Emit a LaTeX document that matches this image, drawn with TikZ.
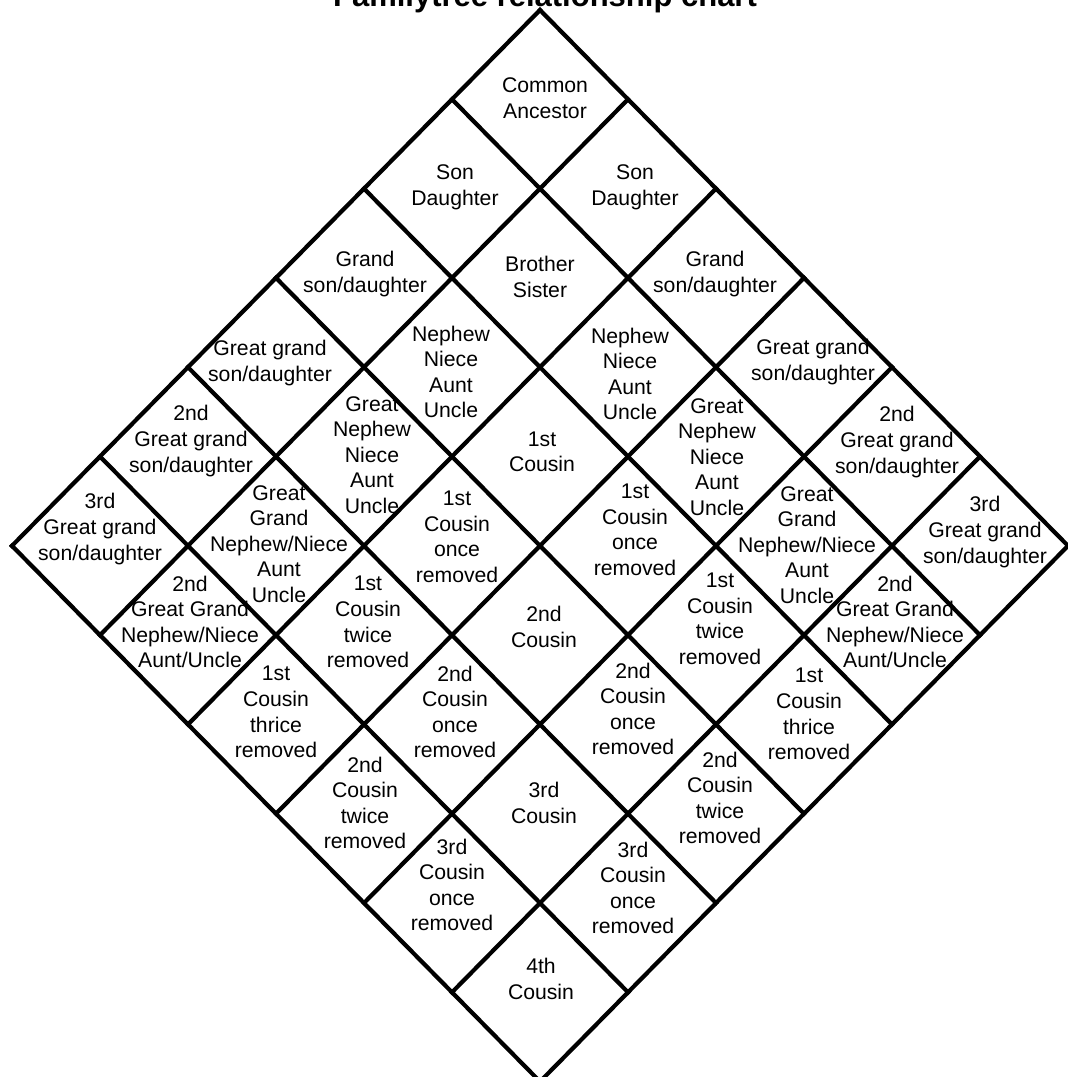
\documentclass[tikz,border=0pt]{standalone}
\usepackage{fontspec}
\setmainfont{Liberation Sans}

\begin{document}
\begin{tikzpicture}[x=0.5pt,y=-0.5pt,
  lbl/.style={align=center,inner sep=0pt,font=\fontsize{10.6}{12.8}\selectfont},
  gridline/.style={line width=2.1pt,line cap=rect}]
  \useasboundingbox (0,0) rectangle (1068,1077);
  \node[anchor=base,font=\fontsize{15.5}{18}\selectfont\bfseries] (title) at (545,6) {Familytree relationship chart};
  % diamond grid, 6 x 6 cells
  \begin{scope}[shift={(540,10)},x={(44pt,-44.65pt)},y={(-44pt,-44.65pt)}]
    \foreach \k in {0,...,6} {
      \draw[gridline] (0,\k) -- (6,\k);
      \draw[gridline] (\k,0) -- (\k,6);
    }
  \end{scope}
  % top rows
  \node[lbl] (anc) at (545,98) {Common\\Ancestor};
  \node[lbl] (sonL) at (455,187) {Son\\Daughter};
  \node[lbl] (sonR) at (635,187) {Son\\Daughter};
  \node[lbl] (grandL) at (365,274) {Grand\\son/daughter};
  \node[lbl] (sib) at (540,277) {Brother\\Sister};
  \node[lbl] (grandR) at (715,274) {Grand\\son/daughter};
  \node[lbl] (ggrandL) at (270,363) {Great grand\\son/daughter};
  \node[lbl] (nephL) at (451,372) {Nephew\\Niece\\Aunt\\Uncle};
  \node[lbl] (nephR) at (630,374) {Nephew\\Niece\\Aunt\\Uncle};
  \node[lbl] (ggrandR) at (813,362) {Great grand\\son/daughter};
  % middle rows
  \node[lbl] (gg2L) at (191,441) {2nd\\Great grand\\son/daughter};
  \node[lbl] (gnephL) at (372,455) {Great\\Nephew\\Niece\\Aunt\\Uncle};
  \node[lbl] (cous1) at (542,452) {1st\\Cousin};
  \node[lbl] (gnephR) at (717,457) {Great\\Nephew\\Niece\\Aunt\\Uncle};
  \node[lbl] (gg2R) at (897,442) {2nd\\Great grand\\son/daughter};
  \node[lbl] (gg3L) at (100,529) {3rd\\Great grand\\son/daughter};
  \node[lbl] (ggnephL) at (279,544) {Great\\Grand\\Nephew/Niece\\Aunt\\Uncle};
  \node[lbl] (c1r1L) at (457,537) {1st\\Cousin\\once\\removed};
  \node[lbl] (c1r1R) at (635,530) {1st\\Cousin\\once\\removed};
  \node[lbl] (ggnephR) at (807,545) {Great\\Grand\\Nephew/Niece\\Aunt\\Uncle};
  \node[lbl] (gg3R) at (985,532) {3rd\\Great grand\\son/daughter};
  \node[lbl] (gggnephL) at (190,622) {2nd\\Great Grand\\Nephew/Niece\\Aunt/Uncle};
  \node[lbl] (c1r2L) at (368,622) {1st\\Cousin\\twice\\removed};
  \node[lbl] (cous2) at (544,627) {2nd\\Cousin};
  \node[lbl] (c1r2R) at (720,619) {1st\\Cousin\\twice\\removed};
  \node[lbl] (gggnephR) at (895,622) {2nd\\Great Grand\\Nephew/Niece\\Aunt/Uncle};
  % bottom rows
  \node[lbl] (c1r3L) at (276,712) {1st\\Cousin\\thrice\\removed};
  \node[lbl] (c2r1L) at (455,712) {2nd\\Cousin\\once\\removed};
  \node[lbl] (c2r1R) at (633,709) {2nd\\Cousin\\once\\removed};
  \node[lbl] (c1r3R) at (809,714) {1st\\Cousin\\thrice\\removed};
  \node[lbl] (c2r2L) at (365,803) {2nd\\Cousin\\twice\\removed};
  \node[lbl] (cous3) at (544,803) {3rd\\Cousin};
  \node[lbl] (c2r2R) at (720,798) {2nd\\Cousin\\twice\\removed};
  \node[lbl] (c3r1L) at (452,885) {3rd\\Cousin\\once\\removed};
  \node[lbl] (c3r1R) at (633,888) {3rd\\Cousin\\once\\removed};
  \node[lbl] (cous4) at (541,979) {4th\\Cousin};
\end{tikzpicture}
\end{document}
